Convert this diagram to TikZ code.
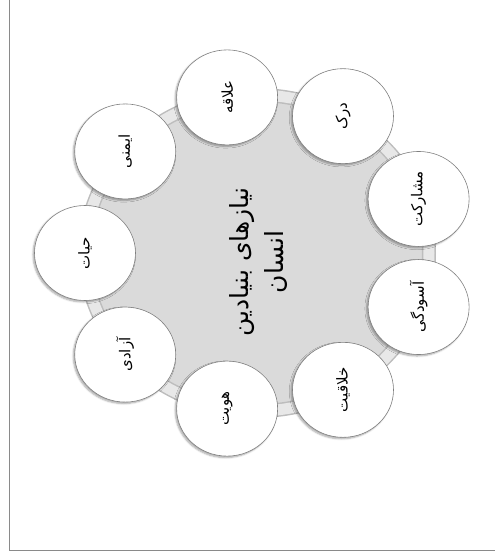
\documentclass[tikz,border=0pt]{standalone}
\usepackage{fontspec}
\newfontfamily\arabicfont[Script=Arabic]{DejaVu Sans}
\TeXXeTstate=1
\usepackage{xcolor}
\definecolor{hubGray}{HTML}{DADADA}
\definecolor{ringGray}{HTML}{E8E8E8}
\definecolor{ringEdge}{HTML}{BDBDBD}
\definecolor{circleEdge}{HTML}{808080}
\definecolor{frameGray}{HTML}{8A8A8A}
\usepackage{tikz}
\usetikzlibrary{
    shapes.geometric,
    shadows.blur
}
\tikzset{
    % One need around the hub - white disc, turned with the page
    need/.style={
        ellipse,
        rotate=90,
        minimum width=95pt,
        minimum height=101pt,
        inner sep=0pt,
        draw=circleEdge,
        line width=0.6pt,
        fill=white,
        font=\arabicfont\fontsize{15}{17}\selectfont,
        blur shadow={
            shadow xshift=-1.5pt,
            shadow yshift=-1.5pt,
            shadow blur steps=5,
            shadow opacity=35
        },
    },
    % Title in the middle of the hub
    hub title/.style={
        rotate=90,
        align=center,
        font=\arabicfont\fontsize{25}{35}\selectfont,
    },
    % Outer frame lines
    frame/.style={
        draw=frameGray,
        line width=0.9pt,
    },
}

\begin{document}
\begin{tikzpicture}[x=1pt, y=1pt]
    \useasboundingbox (-257,-301) rectangle (238,253);
    \draw [frame] (-248,253) -- (-248,-297) -- (238,-297);

    % hub and ring
    \fill [hubGray] (0,0) ellipse [x radius=172, y radius=158];
    \draw [ringEdge, line width=14pt] (0,0) ellipse [x radius=172, y radius=158];
    \draw [ringGray, line width=11pt] (0,0) ellipse [x radius=172, y radius=158];
    \node (title) [hub title] at (2,-9) {\beginR نیازهای بنیادین\endR\\\beginR انسان\endR};

    \node (hayat) [need] at (180:172 and 158) {\beginR حیات\endR};
    \node (imeni) [need] at (140:172 and 158) {\beginR ایمنی\endR};
    \node (alaghe) [need] at (100:172 and 158) {\beginR علاقه\endR};
    \node (dark) [need] at (60:172 and 158) {\beginR درک\endR};
    \node (mosharekat) [need] at (20:172 and 158) {\beginR مشارکت\endR};
    \node (asudegi) [need] at (-20:172 and 158) {\beginR آسودگی\endR};
    \node (khalaghiat) [need] at (-60:172 and 158) {\beginR خلاقیت\endR};
    \node (hoviat) [need] at (-100:172 and 158) {\beginR هویت\endR};
    \node (azadi) [need] at (-140:172 and 158) {\beginR آزادی\endR};
\end{tikzpicture}
\end{document}
